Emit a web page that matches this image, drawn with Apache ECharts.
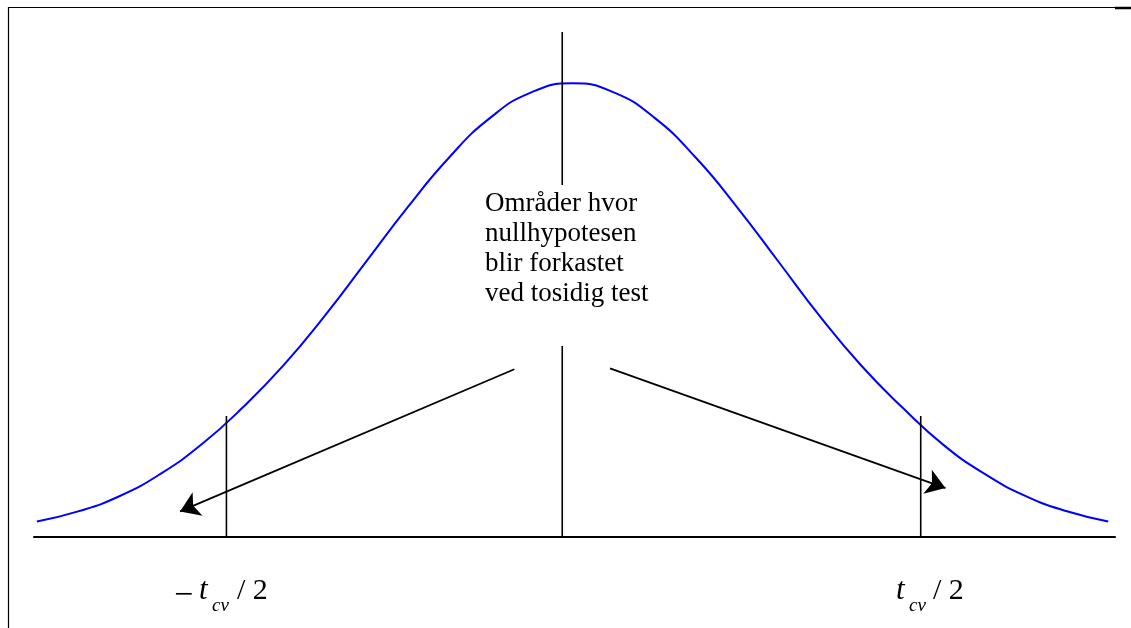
<!DOCTYPE html>
<html>
<head>
<meta charset="utf-8">
<script src="https://cdn.jsdelivr.net/npm/echarts@6/dist/echarts.min.js"></script>
<style>
html,body{margin:0;padding:0;background:#fff;}
#chart{width:1131px;height:628px;}
</style>
</head>
<body>
<div id="chart"></div>
<script>
// Bell curve values (x in standard units, y = height)
const curveX = [-2.6,-2.4,-2.2,-2.0,-1.8,-1.6,-1.4,-1.2,-1.0,-0.8,-0.6,-0.4,-0.2,0,0.2,0.4,0.6,0.8,1.0,1.2,1.4,1.6,1.8,2.0,2.2,2.4,2.6];
const curveY = [0.0136,0.0225,0.0358,0.0555,0.0815,0.1140,0.1515,0.1950,0.2425,0.2900,0.3335,0.3685,0.3910,0.3989,0.3910,0.3683,0.3332,0.2897,0.2420,0.1942,0.1510,0.1140,0.0810,0.0555,0.0360,0.0226,0.0136];

// Vertical markers
const centerX = -0.05;
const tcvLeft = -1.68;
const tcvRight = 1.69;
const centerUpper = [0.3095, 0.444];
const centerLower = [0, 0.168];
const tcvTop = 0.1064;

// Arrows: [fromX, fromY, toX, toY]
const arrowLeft = [-0.2825, 0.1475, -1.905, 0.0225];
const arrowRight = [0.182, 0.1483, 1.810, 0.0430];

const noteText = ['Områder hvor', 'nullhypotesen', 'blir forkastet', 'ved tosidig test'];

const chart = echarts.init(document.getElementById('chart'));
const serif = 'Liberation Serif, Times New Roman, serif';

function vline(x, y0, y1) {
  return {
    type: 'line', data: [[x, y0], [x, y1]], symbol: 'none', silent: true,
    lineStyle: { color: '#000', width: 1.6 }, animation: false
  };
}

const option = {
  animation: false,
  backgroundColor: '#fff',
  grid: { left: 34, right: 16, top: 7, bottom: 91 },
  xAxis: {
    type: 'value', min: -2.614, max: 2.633,
    axisLine: { show: true, lineStyle: { color: '#000', width: 2 } },
    axisTick: { show: false }, axisLabel: { show: false }, splitLine: { show: false }
  },
  yAxis: {
    type: 'value', min: 0, max: 0.466, show: false, splitLine: { show: false }
  },
  series: [
    {
      type: 'line', smooth: true, symbol: 'none', silent: true,
      data: curveX.map((x, i) => [x, curveY[i]]),
      lineStyle: { color: '#0000ff', width: 2 }
    },
    vline(centerX, centerUpper[0], centerUpper[1]),
    vline(centerX, centerLower[0], centerLower[1]),
    vline(tcvLeft, 0, tcvTop),
    vline(tcvRight, 0, tcvTop),
    {
      type: 'lines', coordinateSystem: 'cartesian2d', silent: true,
      symbol: ['none', 'arrow'], symbolSize: [15, 19],
      lineStyle: { color: '#000', width: 1.8, opacity: 1 },
      data: [
        { coords: [[arrowLeft[0], arrowLeft[1]], [arrowLeft[2], arrowLeft[3]]] },
        { coords: [[arrowRight[0], arrowRight[1]], [arrowRight[2], arrowRight[3]]] }
      ]
    }
  ],
  graphic: [
    { type: 'line', shape: { x1: 8.5, y1: 7, x2: 8.5, y2: 628 }, style: { stroke: '#000', lineWidth: 1.2 } },
    { type: 'line', shape: { x1: 8, y1: 7.5, x2: 1115, y2: 7.5 }, style: { stroke: '#000', lineWidth: 1.2 } },
    { type: 'line', shape: { x1: 1115, y1: 8, x2: 1131, y2: 8 }, style: { stroke: '#000', lineWidth: 2.5 } },
    {
      type: 'text', left: 485, top: 189,
      style: { text: noteText.join('\n'), font: '27px ' + serif, fill: '#000', lineHeight: 30 }
    },
    // left label  −t_cv / 2
    { type: 'text', x: 174, y: 613, style: { text: '−', font: '34px ' + serif, fill: '#000', verticalAlign: 'bottom' } },
    { type: 'text', x: 199, y: 606, style: { text: 't', font: 'italic 31px ' + serif, fill: '#000', verticalAlign: 'bottom' } },
    { type: 'text', x: 212, y: 615, style: { text: 'cv', font: 'italic 19px ' + serif, fill: '#000', verticalAlign: 'bottom' } },
    { type: 'text', x: 237, y: 606, style: { text: '/ 2', font: '30px ' + serif, fill: '#000', verticalAlign: 'bottom' } },
    // right label  t_cv / 2
    { type: 'text', x: 896, y: 606, style: { text: 't', font: 'italic 31px ' + serif, fill: '#000', verticalAlign: 'bottom' } },
    { type: 'text', x: 909, y: 615, style: { text: 'cv', font: 'italic 19px ' + serif, fill: '#000', verticalAlign: 'bottom' } },
    { type: 'text', x: 933, y: 606, style: { text: '/ 2', font: '30px ' + serif, fill: '#000', verticalAlign: 'bottom' } }
  ]
};
chart.setOption(option);
</script>
</body>
</html>
